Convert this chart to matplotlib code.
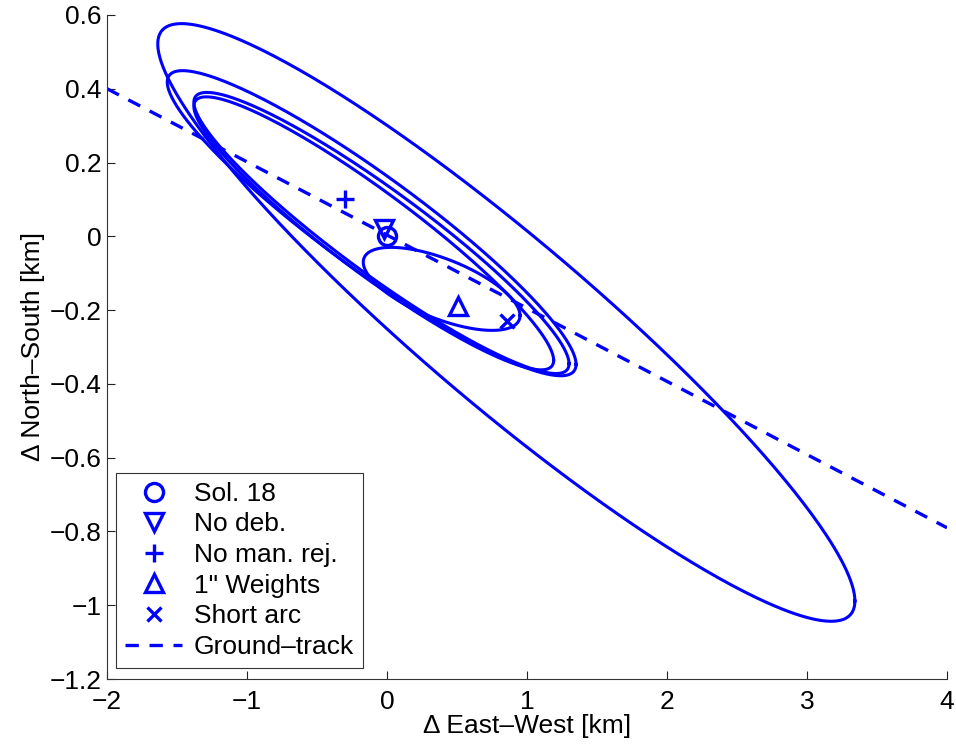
import numpy as np
import matplotlib
matplotlib.use("Agg")
import matplotlib.pyplot as plt

plt.rcParams['font.family'] = ['Liberation Sans', 'DejaVu Sans']

BLUE = '#0000ff'

# Solution points (East-West, North-South) in km
sol_names = ['Sol. 18', 'No deb.', 'No man. rej.', '1" Weights', 'Short arc']
sol_x = [0.0, -0.02, -0.30, 0.51, 0.86]
sol_y = [0.0, 0.02, 0.10, -0.19, -0.23]
sol_markers = ['o', 'v', '+', '^', 'x']

# Error ellipses: center, half-extent in x and y, correlation
ell_cx = [0.852, -0.11, -0.04, -0.095, 0.39]
ell_cy = [-0.2335, 0.0355, 0.009, 0.008, -0.1425]
ell_hx = [2.49, 1.46, 1.34, 1.285, 0.56]
ell_hy = [0.81, 0.4135, 0.381, 0.37, 0.1125]
ell_rho = [-0.932, -0.925, -0.93, -0.93, -0.643]

# Ground track
gt_x = [-2.0, 4.0]
gt_y = [0.40, -0.79]

FS = 19

fig = plt.figure(figsize=(9.56, 7.47), dpi=100)
ax = fig.add_axes([0.112, 0.091, 0.8786, 0.889])

t = np.linspace(0, 2 * np.pi, 400)
for cx, cy, hx, hy, r in zip(ell_cx, ell_cy, ell_hx, ell_hy, ell_rho):
    ex = cx + hx * np.cos(t)
    ey = cy + hy * (r * np.cos(t) + np.sqrt(1 - r * r) * np.sin(t))
    ax.plot(ex, ey, color=BLUE, lw=2.2, zorder=2)

for name, x, y, m in zip(sol_names, sol_x, sol_y, sol_markers):
    ms = 10 if m == 'x' else 13
    ax.plot([x], [y], linestyle='none', marker=m, markersize=ms,
            markerfacecolor='none', markeredgecolor=BLUE,
            markeredgewidth=2.4, label=name, zorder=3)

ax.plot(gt_x, gt_y, color=BLUE, lw=2.4, dashes=(4.0, 3.2),
        label='Ground\u2013track', zorder=2)

ax.set_xlim(-2, 4)
ax.set_ylim(-1.2, 0.6)
ax.set_xticks([-2, -1, 0, 1, 2, 3, 4])
ax.set_yticks([-1.2, -1.0, -0.8, -0.6, -0.4, -0.2, 0, 0.2, 0.4, 0.6])
ax.set_yticklabels(['\u22121.2', '\u22121', '\u22120.8', '\u22120.6', '\u22120.4',
                    '\u22120.2', '0', '0.2', '0.4', '0.6'])
ax.set_xticklabels(['\u22122', '\u22121', '0', '1', '2', '3', '4'])
ax.tick_params(direction='in', length=6, width=0.8, labelsize=FS,
               colors='#222222', labelcolor='black')
ax.tick_params(axis='y', pad=4)
ax.tick_params(axis='x', pad=8)
for s in ('top', 'right'):
    ax.spines[s].set_visible(False)
for s in ('left', 'bottom'):
    ax.spines[s].set_color('#333333')
    ax.spines[s].set_linewidth(0.8)

ax.set_xlabel('\u0394 East\u2013West [km]', fontsize=FS, labelpad=0)
ax.set_ylabel('\u0394 North\u2013South [km]', fontsize=FS, labelpad=3)

leg = ax.legend(loc='lower left', bbox_to_anchor=(0.0107, 0.0166), fontsize=FS,
                frameon=True, fancybox=False, edgecolor='black',
                handlelength=2.15, handletextpad=0.45, labelspacing=0.25,
                borderpad=0.35, borderaxespad=0.0)
leg.get_frame().set_linewidth(0.8)

fig.savefig('out.png', dpi=100)
